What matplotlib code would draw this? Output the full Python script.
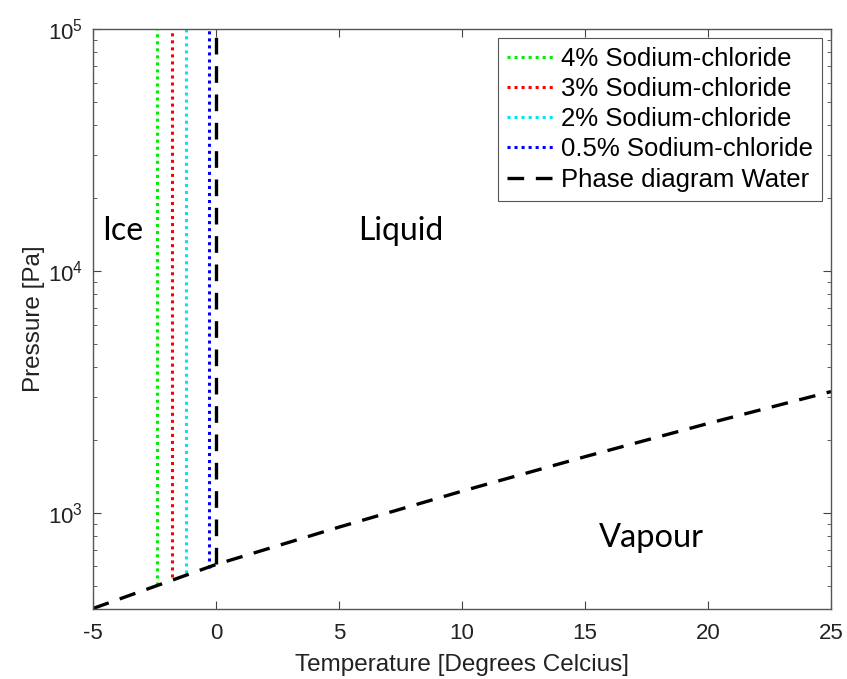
import matplotlib
matplotlib.use("Agg")
import matplotlib.pyplot as plt
from matplotlib.ticker import LogLocator, NullFormatter

plt.rcParams['font.family'] = ['Liberation Sans', 'DejaVu Sans']
plt.rcParams['axes.unicode_minus'] = False

# Water phase curve (vapour pressure)
curve_T = [-5, 0, 5, 10, 15, 20, 25]
curve_P = [402, 611, 872, 1228, 1705, 2339, 3169]

# Freezing point lines for salt solutions
salt_labels = ["4% Sodium-chloride", "3% Sodium-chloride",
               "2% Sodium-chloride", "0.5% Sodium-chloride"]
salt_T = [-2.4, -1.8, -1.2, -0.3]
salt_Pbottom = [505, 545, 565, 590]
salt_colors = ["#00ee00", "#ff0000", "#00e5ee", "#0000ff"]
P_top = 1e5

water_melt_T = [0, 0]
water_melt_P = [611, 1e5]

fig = plt.figure(figsize=(8.47, 6.79), dpi=100)
ax = fig.add_axes([0.1098, 0.1031, 0.8713, 0.8542])

for lab, t, pb, c in zip(salt_labels, salt_T, salt_Pbottom, salt_colors):
    ax.plot([t, t], [pb, P_top], linestyle=(0, (1, 1.3)), color=c, lw=2.2, label=lab)

ax.plot(curve_T, curve_P, 'k', linestyle=(0, (5, 3.5)), lw=2.4, label="Phase diagram Water")
ax.plot(water_melt_T, water_melt_P, 'k', linestyle=(0, (5, 3.5)), lw=2.4)

ax.set_yscale('log')
ax.set_xlim(-5, 25)
ax.set_ylim(400, 1e5)
ax.set_xticks([-5, 0, 5, 10, 15, 20, 25])
ax.yaxis.set_major_locator(LogLocator(base=10, numticks=10))
ax.yaxis.set_minor_locator(LogLocator(base=10, subs=range(2, 10), numticks=20))
ax.yaxis.set_minor_formatter(NullFormatter())
ax.tick_params(which='both', direction='in', top=True, right=True, labelsize=16,
               color='#444444', labelcolor='#222222')
ax.tick_params(which='major', length=6)
ax.tick_params(which='minor', length=3)
ax.tick_params(axis='x', which='major', pad=10)
ax.tick_params(axis='y', which='major', pad=7)
for s in ax.spines.values():
    s.set_color('#555555')
    s.set_linewidth(1.0)

ax.set_xlabel("Temperature [Degrees Celcius]", fontsize=17.5, color='#222222', labelpad=7)
ax.set_ylabel("Pressure [Pa]", fontsize=17.5, color='#222222', labelpad=2)

ann_font = ['Lato', 'DejaVu Sans']
ax.text(-3.8, 1.46e4, "Ice", fontsize=23, ha='center', va='center', family=ann_font)
ax.text(7.5, 1.46e4, "Liquid", fontsize=23, ha='center', va='center', family=ann_font)
ax.text(17.7, 790, "Vapour", fontsize=23.5, ha='center', va='center', family=ann_font)

leg = ax.legend(loc='upper right', fontsize=18.5, handlelength=1.9, labelspacing=0.24,
                handletextpad=0.2, borderpad=0.35, fancybox=False, framealpha=1,
                edgecolor='#555555', borderaxespad=0.35)
leg.get_frame().set_linewidth(0.8)

fig.savefig("out.png", dpi=100)
